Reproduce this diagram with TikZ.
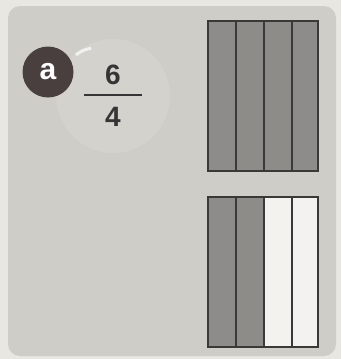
\documentclass[tikz,border=0pt]{standalone}
\usepackage{fontspec}
\setmainfont{Liberation Sans}
\begin{document}
\begin{tikzpicture}[x=1pt,y=-1pt,
  bar/.style={draw=linec,line width=1.8pt}]
\definecolor{outerbg}{HTML}{E9E7E2}
\definecolor{panel}{HTML}{CFCDC8}
\definecolor{barg}{HTML}{8E8C88}
\definecolor{barw}{HTML}{F3F2EE}
\definecolor{linec}{HTML}{3A3838}
\definecolor{badge}{HTML}{4A3F3F}
\definecolor{disc}{HTML}{D4D2CD}
\definecolor{txt}{HTML}{353535}
\useasboundingbox (0,0) rectangle (341,359);
\fill[outerbg] (0,0) rectangle (341,359);
\fill[panel,rounded corners=12pt] (8,6) rectangle (336,356);
% faint disc
\fill[disc] (113,96) circle (57);
\draw[white,line width=3pt,opacity=0.7] (76,55) arc (230:262:30);
% badge
\node[circle,fill=badge,minimum size=51pt,inner sep=0pt,text=white,font=\bfseries\fontsize{30}{30}\selectfont] (badge) at (48,72) {a};
% fraction
\node[text=txt,font=\bfseries\fontsize{28}{28}\selectfont] (num) at (113,75) {6};
\node[text=txt,font=\bfseries\fontsize{28}{28}\selectfont] (den) at (113,117) {4};
\draw[txt,line width=1.5pt] (84,95) -- (142,95);
% top bar: all shaded
\fill[barg] (208,21) rectangle (318,171);
\draw[bar] (208,21) rectangle (318,171);
\foreach \x in {236,264,292}{ \draw[bar] (\x,21) -- (\x,171); }
% bottom bar
\fill[barg] (208,197) rectangle (264,347);
\fill[barw] (264,197) rectangle (318,347);
\draw[bar] (208,197) rectangle (318,347);
\foreach \x in {236,264,292}{ \draw[bar] (\x,197) -- (\x,347); }
\end{tikzpicture}
\end{document}
